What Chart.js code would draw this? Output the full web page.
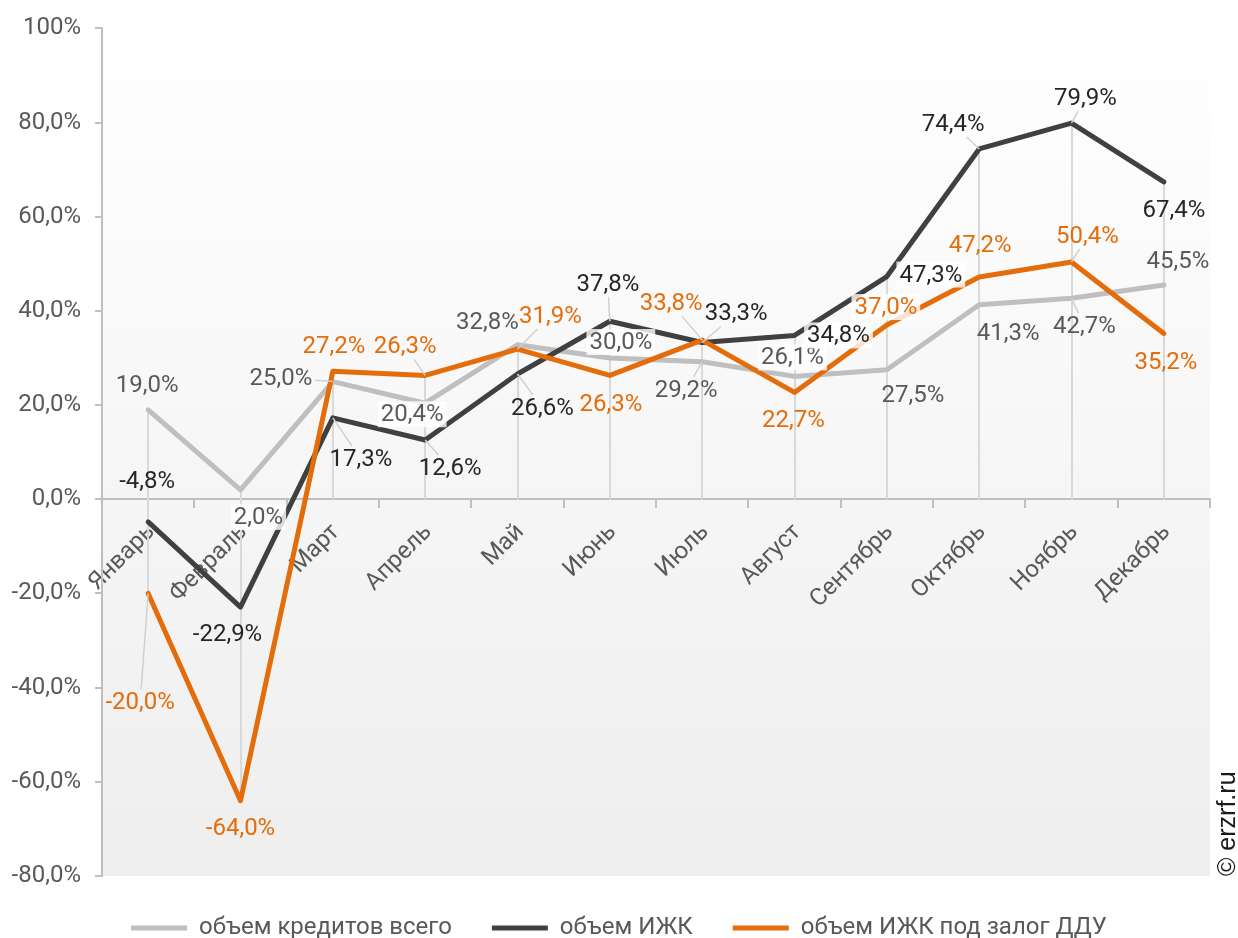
<!DOCTYPE html>
<html>
<head>
<meta charset="utf-8">
<script src="https://cdn.jsdelivr.net/npm/chart.js@4.4.0/dist/chart.umd.min.js"></script>
<style>
  html, body { margin: 0; padding: 0; background: #fff; }
  #wrap { width: 1238px; height: 938px; }
</style>
</head>
<body>
<div id="wrap"><canvas id="chart" width="1238" height="938"></canvas></div>
<script>
const months = ['Январь', 'Февраль', 'Март', 'Апрель', 'Май', 'Июнь',
  'Июль', 'Август', 'Сентябрь', 'Октябрь', 'Ноябрь', 'Декабрь'];

const totalLoans = [19.0, 2.0, 25.0, 20.4, 32.8, 30.0, 29.2, 26.1, 27.5, 41.3, 42.7, 45.5];
const izhkLoans = [-4.8, -22.9, 17.3, 12.6, 26.6, 37.8, 33.3, 34.8, 47.3, 74.4, 79.9, 67.4];
const izhkDduLoans = [-20.0, -64.0, 27.2, 26.3, 31.9, 26.3, 33.8, 22.7, 37.0, 47.2, 50.4, 35.2];

const seriesNames = ['объем кредитов всего', 'объем ИЖК', 'объем ИЖК под залог ДДУ'];
const yTicks = [-80, -60, -40, -20, 0, 20, 40, 60, 80, 100];

// label placement relative to the point: [dx, dy, leader line, white box]
const totalLabelPos = [
  [-1, -25, 0, 0], [18, 27, 0, 1], [-52, -4, 1, 0], [-13, 11, 0, 1],
  [-30, -23, 0, 0], [11, -16, 0, 1], [-16, 28, 1, 0], [-2, -19, 0, 1],
  [26, 25, 0, 0], [29, 28, 0, 0], [13, 28, 1, 0], [14, -24, 0, 0]
];
const izhkLabelPos = [
  [-1, -41, 0, 0], [-13, 27, 0, 0], [28, 41, 1, 0], [25, 28, 1, 0],
  [25, 34, 1, 0], [-2, -37, 1, 0], [34, -29, 1, 0], [44, 0, 0, 1],
  [44, -2, 0, 1], [-26, -25, 1, 0], [14, -25, 1, 0], [10, 28, 0, 0]
];
const izhkDduLabelPos = [
  [-8, 109, 1, 0], [0, 27, 0, 0], [1, -25, 0, 0], [-20, -29, 1, 0],
  [33, -33, 1, 0], [1, 29, 0, 0], [-31, -37, 1, 0], [-1, 28, 0, 0],
  [-1, -18, 0, 1], [1, -32, 0, 0], [16, -26, 1, 0], [2, 28, 0, 0]
];
const labelPos = [totalLabelPos, izhkLabelPos, izhkDduLabelPos];
const labelColors = ['#595959', '#262626', '#e46c0a'];

const fmt = v => v.toFixed(1).replace('.', ',') + '%';

const plotBackground = {
  id: 'plotBackground',
  beforeDraw(chart) {
    const { ctx, chartArea: { left, top, right, bottom } } = chart;
    const g = ctx.createLinearGradient(0, top, 0, bottom);
    g.addColorStop(0, '#ffffff');
    g.addColorStop(1, '#eeeeee');
    ctx.save();
    ctx.fillStyle = g;
    ctx.fillRect(left, top, right - left, bottom - top);
    ctx.restore();
  }
};

// vertical drop lines from the highest to the lowest value of each month
const dropLines = {
  id: 'dropLines',
  beforeDatasetsDraw(chart) {
    const { ctx, scales: { x, y } } = chart;
    ctx.save();
    ctx.strokeStyle = '#d9d9d9';
    ctx.lineWidth = 2;
    months.forEach((m, i) => {
      const vals = chart.data.datasets.map(d => d.data[i]);
      const hi = Math.max(0, ...vals), lo = Math.min(0, ...vals);
      const px = Math.round(x.getPixelForValue(i));
      ctx.beginPath();
      ctx.moveTo(px, y.getPixelForValue(hi));
      ctx.lineTo(px, y.getPixelForValue(lo));
      ctx.stroke();
    });
    ctx.restore();
  }
};

const pointLabels = {
  id: 'pointLabels',
  afterDatasetsDraw(chart) {
    const ctx = chart.ctx;
    ctx.save();
    ctx.font = '24px Roboto';
    ctx.textAlign = 'center';
    ctx.textBaseline = 'middle';
    const items = [];
    chart.data.datasets.forEach((ds, di) => {
      chart.getDatasetMeta(di).data.forEach((pt, i) => {
        const [dx, dy, leader, box] = labelPos[di][i];
        const text = fmt(ds.data[i]);
        items.push({ text, px: pt.x, py: pt.y, cx: pt.x + dx, cy: pt.y + dy,
          w: ctx.measureText(text).width + 6, h: 26, leader, box, color: labelColors[di] });
      });
    });
    ctx.strokeStyle = '#d0d0d0';
    ctx.lineWidth = 1.5;
    items.filter(it => it.leader).forEach(it => {
      const vx = it.px - it.cx, vy = it.py - it.cy;
      const s = Math.min(Math.abs(it.w / 2 / (vx || 1e-6)), Math.abs(it.h / 2 / (vy || 1e-6)));
      ctx.beginPath();
      ctx.moveTo(it.cx + vx * s, it.cy + vy * s);
      ctx.lineTo(it.px, it.py);
      ctx.stroke();
    });
    items.forEach(it => {
      if (it.box) {
        ctx.fillStyle = 'rgba(255,255,255,0.8)';
        ctx.fillRect(it.cx - it.w / 2, it.cy - it.h / 2, it.w, it.h);
      }
      ctx.fillStyle = it.color;
      ctx.fillText(it.text, it.cx, it.cy + 1);
    });
    ctx.restore();
  }
};

// nudge the legend row so that it sits centred under the whole picture
const legendShift = {
  id: 'legendShift',
  afterLayout(chart) {
    chart.legend.left += 14;
    chart.legend.right += 14;
  }
};

const copyright = {
  id: 'copyright',
  afterDraw(chart) {
    const ctx = chart.ctx;
    ctx.save();
    ctx.translate(1228, 876);
    ctx.rotate(-Math.PI / 2);
    ctx.font = '25px "Liberation Sans"';
    ctx.fillStyle = '#1a1a1a';
    ctx.textAlign = 'left';
    ctx.textBaseline = 'middle';
    ctx.fillText('© erzrf.ru', 0, 0);
    ctx.restore();
  }
};

const lineStyle = (color, order) => ({
  borderColor: color,
  backgroundColor: color,
  borderWidth: 5,
  borderCapStyle: 'round',
  borderJoinStyle: 'round',
  pointRadius: 0,
  tension: 0,
  fill: false,
  order: order
});

new Chart(document.getElementById('chart'), {
  type: 'line',
  data: {
    labels: months,
    datasets: [
      { label: seriesNames[0], data: totalLoans, ...lineStyle('#bfbfbf', 3) },
      { label: seriesNames[1], data: izhkLoans, ...lineStyle('#404040', 2) },
      { label: seriesNames[2], data: izhkDduLoans, ...lineStyle('#e46c0a', 1) }
    ]
  },
  options: {
    responsive: false,
    animation: false,
    layout: { padding: { left: 0, right: 28, top: 27, bottom: -12 } },
    plugins: {
      tooltip: { enabled: false },
      legend: {
        position: 'bottom',
        labels: {
          usePointStyle: true,
          pointStyle: 'line',
          pointStyleWidth: 56,
          padding: 40,
          color: '#595959',
          font: { family: 'Roboto', size: 24 },
          sort: (a, b) => a.datasetIndex - b.datasetIndex
        }
      }
    },
    scales: {
      x: {
        position: { y: 0 },
        offset: true,
        border: { color: '#bfbfbf', width: 2 },
        grid: { offset: true, drawOnChartArea: false, drawTicks: true, tickLength: 8, color: '#bfbfbf', lineWidth: 2 },
        ticks: {
          autoSkip: false, minRotation: 45, maxRotation: 45, padding: 11, labelOffset: 3,
          color: '#595959', font: { family: 'Roboto', size: 24 }
        }
      },
      y: {
        min: -80,
        max: 100,
        afterBuildTicks: a => { a.ticks = yTicks.map(v => ({ value: v })); },
        afterFit: a => { a.width = 102; },
        border: { color: '#bfbfbf', width: 2 },
        grid: { drawOnChartArea: false, drawTicks: true, tickLength: 7, color: '#bfbfbf', lineWidth: 2 },
        ticks: {
          padding: 14,
          color: '#595959',
          font: { family: 'Roboto', size: 24 },
          callback: v => (v === 100 ? '100%' : fmt(v))
        }
      }
    }
  },
  plugins: [plotBackground, dropLines, pointLabels, legendShift, copyright]
});
</script>
</body>
</html>
